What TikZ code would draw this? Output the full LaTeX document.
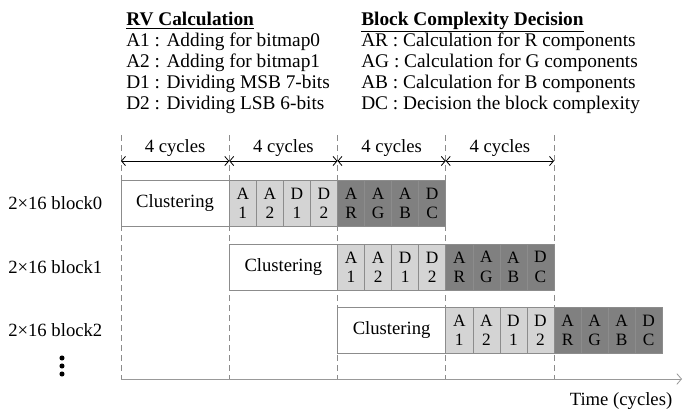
\documentclass[tikz,border=0pt]{standalone}
\usepackage{fontspec}
\setmainfont{Liberation Serif}
\usetikzlibrary{arrows.meta,positioning}

\begin{document}
\begin{tikzpicture}[
    x=0.75pt, y=-0.75pt,
    every node/.style={font=\fontsize{14}{15.4}\selectfont},
    legend/.style={align=left, inner sep=0pt, anchor=north west, font=\fontsize{14.5}{15.75}\selectfont},
    clus/.style={draw=black!45, fill=white, minimum width=81.2pt, minimum height=34.5pt, inner sep=0pt, outer sep=0pt},
    rvcell/.style={draw=black!45, fill=black!17, minimum width=20.3pt, minimum height=34.5pt, inner sep=0pt, outer sep=0pt, align=center, font=\fontsize{13}{14.5}\selectfont},
    bccell/.style={rvcell, fill=black!50},
    guide/.style={draw=black!45, dash pattern=on 4.5pt off 3pt},
    span/.style={{Straight Barb[length=3pt,width=7pt]}-{Straight Barb[length=3pt,width=7pt]}, line width=0.6pt},
    axis/.style={-{Straight Barb[length=3.5pt,width=8pt]}, draw=black!40, line width=0.6pt},
]
\useasboundingbox (0,0) rectangle (684,415);

% legend
\node[legend] (rvleg) at (126,12) {\underline{\textbf{RV Calculation}}\\
  A1 : Adding for bitmap0\\
  A2 : Adding for bitmap1\\
  D1 : Dividing MSB 7-bits\\
  D2 : Dividing LSB 6-bits};
\node[legend] (bcleg) at (361,12) {\underline{\textbf{Block Complexity Decision}}\\
  AR : Calculation for R components\\
  AG : Calculation for G components\\
  AB : Calculation for B components\\
  DC : Decision the block complexity};

% time grid
\foreach \k in {0,...,4} {
  \coordinate (top\k) at (121+108.25*\k,135);
  \coordinate (t\k) at (121+108.25*\k,161);
  \coordinate (bot\k) at (121+108.25*\k,379);
  \draw[guide] (top\k) -- (bot\k);
}
\foreach \k [evaluate=\k as \n using int(\k+1)] in {0,...,3}
  \draw[span] (t\k) -- (t\n) node[midway, above] {4 cycles};

% blocks
\foreach \r in {0,1,2} {
  \node[anchor=east] (lab\r) at (107,203.5+63.5*\r) {2×16 block\r};
  \node[clus, anchor=west] (clus\r) at (121+108.25*\r,203.5+63.5*\r) {Clustering};
  \foreach \a/\b [count=\i] in {A/1,A/2,D/1,D/2}
    \node[rvcell] (rv\r\i) at ({229.25+108.25*\r+27.0625*(\i-0.5)},{203.5+63.5*\r}) {\a\\\b};
  \foreach \a/\b [count=\i] in {A/R,A/G,A/B,D/C}
    \node[bccell] (bc\r\i) at ({337.5+108.25*\r+27.0625*(\i-0.5)},{203.5+63.5*\r}) {\a\\\b};
}
\foreach \k in {0,1,2}
  \fill (62,358+8*\k) circle (1.9pt);

% time axis
\coordinate (tend) at (682,379);
\draw[axis] (bot0) -- (tend);
\node (tlab) at (621,401) {Time (cycles)};
\end{tikzpicture}
\end{document}
